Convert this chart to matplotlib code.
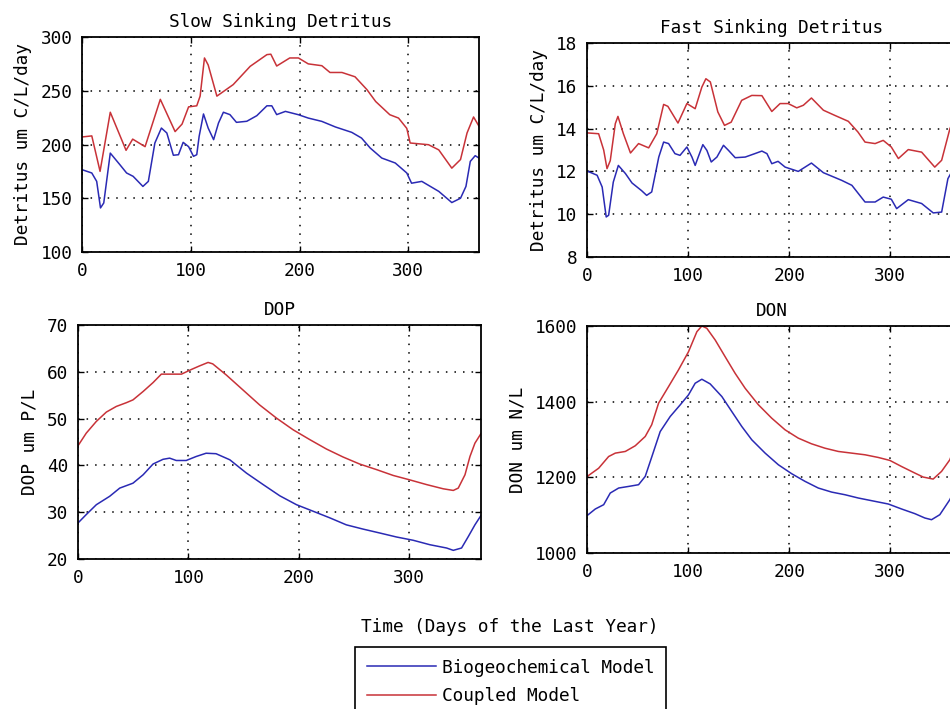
import matplotlib
matplotlib.use("Agg")
import matplotlib.pyplot as plt

plt.rcParams["font.family"] = ["DejaVu Sans Mono"]
plt.rcParams["font.size"] = 12.8
plt.rcParams["axes.titlesize"] = 12.8

BLUE = "#2a2ab4"
RED = "#c83238"

# ── slow sinking detritus (um C/L/day) ─────────────────────────
slow_bio_day = [0, 9, 13.5, 17, 20, 26, 35, 41, 47, 56, 61, 67, 73, 78, 84, 88.7, 93, 98,
                102.5, 105.5, 107.7, 111.7, 116, 121, 125.5, 130, 136, 142, 151.5, 160.7,
                170, 174.5, 179, 187, 199, 208, 220.5, 233, 248, 257, 265, 275.6, 288,
                298.6, 303, 312.4, 328, 340, 348, 353, 357, 361.5, 365]
slow_bio = [176.6, 173.5, 165.7, 141, 145.6, 192, 181, 173.5, 170.4, 161, 165.7, 201.4,
            215.3, 210.7, 190, 190.5, 202, 198, 189, 190.5, 207.6, 228.4, 215.3, 204.5,
            220, 230, 227.8, 220.6, 221.6, 226.8, 236, 236, 227.8, 230.8, 227.7, 224.6,
            221.5, 216.3, 211.3, 206, 196.7, 187.4, 182.8, 173.5, 164, 165.7, 156.4, 146,
            150, 161, 184.3, 189.6, 187.4]
slow_cpl_day = [0, 9, 16.6, 26, 40.5, 46.6, 58, 72, 85.6, 92, 98, 105.5, 108.6, 112.6,
                116, 124, 139, 154.6, 170, 173.6, 179, 191, 199, 208, 220.5, 228, 239,
                251, 262, 270, 283, 291, 298.6, 301.7, 318.6, 328, 340, 348, 354, 360, 365]
slow_cpl = [207, 208, 175, 230, 194.6, 205, 198, 242, 212, 219, 235, 236, 245, 280.5,
            274, 245, 255.7, 272.7, 283.6, 284, 273, 280.5, 280.5, 275, 273.3, 267, 267,
            263, 251, 240, 227.7, 224.6, 215, 201.4, 199.8, 195, 178, 186, 210.7, 225.6,
            217]

# ── fast sinking detritus (um C/L/day) ─────────────────────────
fast_bio_day = [0, 10, 15, 19, 21.4, 26, 31, 38, 44.5, 54, 59, 64, 71, 75.8, 80.7, 87,
                92, 98.8, 103.8, 107, 110, 114.6, 118.6, 122.9, 128.5, 135, 140, 146.6,
                156.5, 166, 173, 178, 182.8, 189, 196, 209, 222, 233.8, 252, 262, 275,
                285, 293, 301, 306.3, 317.8, 331, 342.5, 350.8, 357, 361, 365]
fast_bio = [12.02, 11.82, 11.27, 9.87, 9.95, 11.5, 12.28, 11.9, 11.46, 11.1, 10.88, 11.04,
            12.67, 13.37, 13.3, 12.83, 12.75, 13.14, 12.67, 12.28, 12.67, 13.25, 12.98,
            12.44, 12.67, 13.22, 12.98, 12.64, 12.67, 12.83, 12.95, 12.83, 12.36, 12.47,
            12.2, 12.0, 12.39, 11.94, 11.58, 11.35, 10.57, 10.57, 10.8, 10.7, 10.26,
            10.68, 10.5, 10.06, 10.1, 11.66, 12.0, 11.9]
fast_cpl_day = [0, 11.5, 16.5, 19.8, 23, 28, 30.6, 36, 43, 51, 61, 69, 75.8, 80, 90,
                98.8, 107, 113.6, 117.6, 122, 129.4, 136, 142.6, 153, 163, 173, 182.8,
                191, 199, 207.5, 214, 222, 233.8, 245, 258.5, 268, 275, 285, 293, 301,
                308, 317.8, 331, 344, 350.8, 359, 362, 365]
fast_cpl = [13.8, 13.76, 13.0, 12.13, 12.5, 14.23, 14.57, 13.76, 12.86, 13.3, 13.1, 13.76,
            15.13, 15.04, 14.26, 15.17, 14.93, 15.94, 16.33, 16.18, 14.78, 14.15, 14.3,
            15.32, 15.55, 15.54, 14.8, 15.17, 15.17, 14.97, 15.09, 15.43, 14.86, 14.62,
            14.34, 13.84, 13.37, 13.3, 13.45, 13.14, 12.6, 13.02, 12.9, 12.2, 12.52, 14.0,
            14.3, 14.1]

# ── DOP (um P/L) ───────────────────────────────────────────────
dop_bio_day = [0, 7.5, 16.6, 28.7, 37.8, 49.8, 59, 68, 77, 83, 89, 98, 107, 116, 125,
               137.5, 152.6, 167.7, 182.8, 197.9, 213, 228, 243, 258, 273.4, 288.5, 303.6,
               318.7, 333.8, 339.9, 347.4, 353.5, 359.5, 365]
dop_bio = [27.7, 29.5, 31.6, 33.4, 35.15, 36.2, 38, 40.3, 41.3, 41.55, 41.05, 41.05, 41.9,
           42.6, 42.5, 41.2, 38.35, 35.9, 33.5, 31.6, 30.2, 28.8, 27.3, 26.4, 25.55, 24.7,
           24, 23.05, 22.35, 21.85, 22.35, 24.8, 27.3, 29.3]
dop_cpl_day = [0, 7.5, 16.6, 25.7, 34.7, 43.8, 49.8, 59, 68, 75.5, 83, 93.7, 102.7, 110,
               117.8, 122, 134.4, 149.5, 164.6, 179.8, 194.9, 210, 225, 240, 255, 270.4,
               285.5, 300.6, 315.7, 330.8, 339.9, 344.4, 350.5, 355, 359.5, 365]
dop_cpl = [44.2, 46.9, 49.4, 51.4, 52.6, 53.4, 54, 55.8, 57.7, 59.5, 59.5, 59.5, 60.5,
           61.25, 62, 61.7, 59.3, 56.1, 52.9, 50.1, 47.6, 45.5, 43.5, 41.8, 40.3, 39.1,
           37.85, 36.9, 35.9, 35.0, 34.65, 35.15, 38, 41.9, 44.75, 46.8]

# ── DON (um N/L) ───────────────────────────────────────────────
don_bio_day = [0, 8.2, 16.5, 23, 31.3, 41.2, 51, 57.6, 64.2, 72.4, 82.3, 92.2, 100.4,
               107, 113.6, 121.8, 133.4, 143.2, 153.1, 163, 176.2, 189.3, 202.5, 215.7,
               228.8, 242, 255.2, 268.4, 281.5, 298, 311.2, 324.3, 334.2, 340.8, 349,
               358.9, 365]
don_bio = [1098.7, 1116.3, 1127.7, 1158.5, 1171.7, 1176, 1180.5, 1202.5, 1255, 1321,
           1360.8, 1391.6, 1418, 1448.7, 1459.3, 1447, 1413.5, 1374, 1334.4, 1299.2, 1264,
           1233.2, 1209.5, 1189.3, 1171.7, 1161, 1154, 1145.3, 1138.3, 1129.5, 1116.3,
           1104, 1092.5, 1088, 1101.3, 1141, 1175]
don_cpl_day = [0, 11.5, 21.4, 28, 37.9, 47.7, 57.6, 64, 70.8, 80.7, 90.5, 100.4, 108.7,
               113.6, 118.5, 126.8, 136.6, 146.5, 156.4, 169.6, 182.7, 195.9, 209, 222,
               235.4, 248.6, 261.8, 275, 288, 299.6, 311, 324.3, 332.6, 342.4, 350.7,
               358.9, 365]
don_cpl = [1202, 1224, 1255, 1264, 1268.4, 1283.4, 1308, 1339, 1396, 1440, 1484, 1532,
           1585, 1600, 1594, 1563, 1519, 1475, 1435.5, 1391.6, 1356.4, 1325.6, 1303.6,
           1288.7, 1277, 1268.4, 1264, 1259.6, 1252.6, 1244.7, 1228.8, 1211.3, 1200.7,
           1195.4, 1215.7, 1246.4, 1290]

x_ticks = [0, 100, 200, 300]


def style_axes(ax, title, ylabel, ylim, yticks):
    ax.set_xlim(0, 365)
    ax.set_ylim(*ylim)
    ax.set_xticks(x_ticks)
    ax.set_yticks(yticks)
    ax.set_title(title, pad=7)
    ax.set_ylabel(ylabel, labelpad=6)
    ax.grid(True, color="black", linestyle=(0, (1, 4.6)), linewidth=1.1)
    ax.tick_params(direction="in", length=4, width=1, top=True, right=True, pad=7)
    for sp in ax.spines.values():
        sp.set_linewidth(1.3)


fig = plt.figure(figsize=(9.5, 7.09), dpi=100)
W, H = 950, 709


def add_axes(left, top, width, height):
    # pixel box -> figure fraction
    return fig.add_axes([left / W, (H - top - height) / H, width / W, height / H])


ax1 = add_axes(82, 37, 397, 215)
ax1.plot(slow_bio_day, slow_bio, color=BLUE, lw=1.1)
ax1.plot(slow_cpl_day, slow_cpl, color=RED, lw=1.1)
style_axes(ax1, "Slow Sinking Detritus", "Detritus um C/L/day", (100, 300),
           [100, 150, 200, 250, 300])

ax2 = add_axes(587, 43, 369, 214)
ax2.plot(fast_bio_day, fast_bio, color=BLUE, lw=1.1)
ax2.plot(fast_cpl_day, fast_cpl, color=RED, lw=1.1)
style_axes(ax2, "Fast Sinking Detritus", "Detritus um C/L/day", (8, 18),
           [8, 10, 12, 14, 16, 18])

ax3 = add_axes(78, 325, 403, 234)
ax3.plot(dop_bio_day, dop_bio, color=BLUE, lw=1.1)
ax3.plot(dop_cpl_day, dop_cpl, color=RED, lw=1.1)
style_axes(ax3, "DOP", "DOP um P/L", (20, 70), [20, 30, 40, 50, 60, 70])

ax4 = add_axes(587, 326, 369, 227)
l1, = ax4.plot(don_bio_day, don_bio, color=BLUE, lw=1.1)
l2, = ax4.plot(don_cpl_day, don_cpl, color=RED, lw=1.1)
style_axes(ax4, "DON", "DON um N/L", (1000, 1600), [1000, 1200, 1400, 1600])

fig.text(510 / W, 1 - 627 / H, "Time (Days of the Last Year)", ha="center", va="center")

leg = fig.legend([l1, l2], ["Biogeochemical Model", "Coupled Model"],
                 loc="upper left", bbox_to_anchor=(355 / W, 1 - 647 / H),
                 frameon=True, fancybox=False, framealpha=1, edgecolor="black",
                 handlelength=3.9, handletextpad=0.35, labelspacing=0.6,
                 borderpad=0.65, borderaxespad=0)
leg.get_frame().set_linewidth(1.2)

fig.savefig("out.png", dpi=100)
